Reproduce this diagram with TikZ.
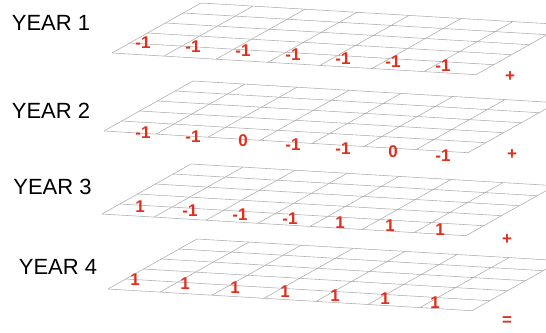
\documentclass[tikz,border=0pt]{standalone}
\usepackage{fontspec}
\setmainfont{Liberation Sans}
\usepackage{tikz}

\definecolor{markred}{RGB}{222,48,30}
\tikzset{
  gridline/.style={gray!65, line width=0.55pt},
  yearlabel/.style={font=\fontsize{22}{24}\selectfont, inner sep=0pt},
  cellval/.style={text=markred, font=\bfseries\fontsize{17}{18}\selectfont, inner sep=0pt},
  opsign/.style={text=markred, font=\bfseries\fontsize{17}{18}\selectfont, inner sep=0pt}
}

\begin{document}
\begin{tikzpicture}[x=1pt, y=-1pt]
\useasboundingbox (0,0) rectangle (546,332);
% one slanted 7x5 grid per year
\foreach \gx/\gy in {112/53, 104/131, 102/214, 108/289} {
  \begin{scope}[shift={(\gx,\gy)}]
    \foreach \i in {0,...,7}
      \draw[gridline] (52*\i, 3.1*\i) -- ++(89,-50);
    \foreach \j in {0,...,5}
      \draw[gridline] (17.8*\j, -10*\j) -- ++(364,21.7);
  \end{scope}
}
\node[yearlabel] (year1) at (51,23) {YEAR 1};
\node[yearlabel] (year2) at (51,111) {YEAR 2};
\node[yearlabel] (year3) at (52.5,186.5) {YEAR 3};
\node[yearlabel] (year4) at (58,266.5) {YEAR 4};
% values in the front row
\foreach \yr/\ox/\oy/\vals in {1/143/43/{-1,-1,-1,-1,-1,-1,-1},
    2/143/133/{-1,-1,0,-1,-1,0,-1},
    3/140/207/{1,-1,-1,-1,1,1,1},
    4/135/280/{1,1,1,1,1,1,1}} {
  \foreach \v [count=\i from 0] in \vals
    \node[cellval] (val\yr-\i) at (\ox+50*\i, \oy+3.8*\i) {\v};
}
\node[opsign] (plus1) at (510,77) {+};
\node[opsign] (plus2) at (512,155) {+};
\node[opsign] (plus3) at (507,240) {+};
\node[opsign] (equals) at (507,321) {=};
\end{tikzpicture}
\end{document}
